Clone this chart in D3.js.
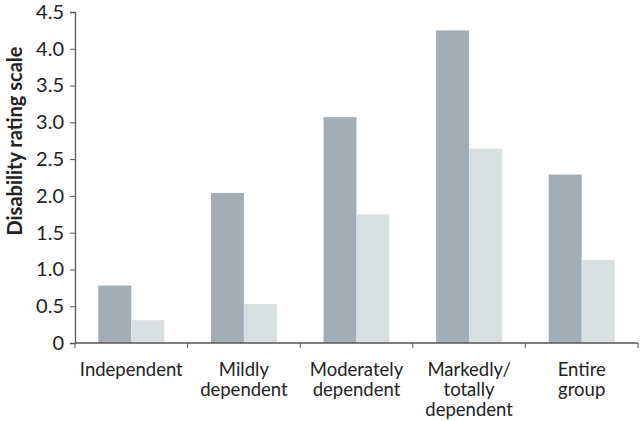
<!DOCTYPE html>
<html><head><meta charset="utf-8">
<script src="https://cdn.jsdelivr.net/npm/d3@7"></script>
<style>html,body{margin:0;padding:0;background:#fff;overflow:hidden}svg{display:block}text{font-family:Lato,"Open Sans",sans-serif;fill:#222}</style>
</head><body><svg id="c" width="640" height="421"></svg>
<script>
const categories = [["Independent"],["Mildly","dependent"],["Moderately","dependent"],["Markedly/","totally","dependent"],["Entire","group"]];
const seriesA = [0.78, 2.04, 3.07, 4.25, 2.29];
const seriesB = [0.31, 0.53, 1.75, 2.645, 1.13];
const yTicks = [0,0.5,1.0,1.5,2.0,2.5,3.0,3.5,4.0,4.5];
const yTitle = "Disability rating scale";

const svg = d3.select("#c");
const x0 = 75, x1 = 638, yB = 343, yT = 12;
const x = d3.scaleBand().domain(d3.range(categories.length)).range([x0,x1]).padding(0);
const y = d3.scaleLinear().domain([0,4.5]).range([yB,yT]);
const inner = d3.scaleBand().domain([0,1]).range([0, 66]);
const off = (x.bandwidth()-66)/2;
const colors = ["#a3adb5","#d9dee0"];

const g = svg.append("g");
[seriesA, seriesB].forEach((s,si)=>{
  g.selectAll(null).data(s).enter().append("rect")
   .attr("x",(d,i)=>x(i)+off+inner(si))
   .attr("width",inner.bandwidth())
   .attr("y",d=>y(d))
   .attr("height",d=>yB-y(d))
   .attr("fill",colors[si]);
});

// y axis
const ya = svg.append("g").attr("transform",`translate(${x0},0)`)
  .call(d3.axisLeft(y).tickValues(yTicks).tickSize(5).tickPadding(6)
    .tickFormat(d=>d===0?"0":d3.format(".1f")(d)));
ya.select(".domain").attr("stroke","#555").attr("stroke-width",1.3);
ya.selectAll(".tick line").attr("stroke","#555");
ya.selectAll("text").attr("font-size",20).style("fill","#222").attr("font-family","Lato, sans-serif");

// x axis
const bounds = d3.range(categories.length+1).map(i=> i<categories.length ? x(i) : x1);
svg.append("line").attr("x1",x0).attr("x2",x1).attr("y1",yB).attr("y2",yB).attr("stroke","#555").attr("stroke-width",1.5);
svg.selectAll(null).data(bounds).enter().append("line")
  .attr("x1",d=>d).attr("x2",d=>d).attr("y1",yB).attr("y2",yB+5).attr("stroke","#555");

categories.forEach((lines,i)=>{
  const t = svg.append("text").attr("text-anchor","middle").attr("font-size",18.5)
    .attr("x",x(i)+x.bandwidth()/2).attr("y",376);
  lines.forEach((l,j)=>t.append("tspan").attr("x",x(i)+x.bandwidth()/2).attr("dy",j?20:0).text(l));
});

svg.append("text").attr("transform","translate(22,141) rotate(-90)")
  .attr("text-anchor","middle").attr("font-size",20).attr("font-weight","bold").text(yTitle);
</script></body></html>
